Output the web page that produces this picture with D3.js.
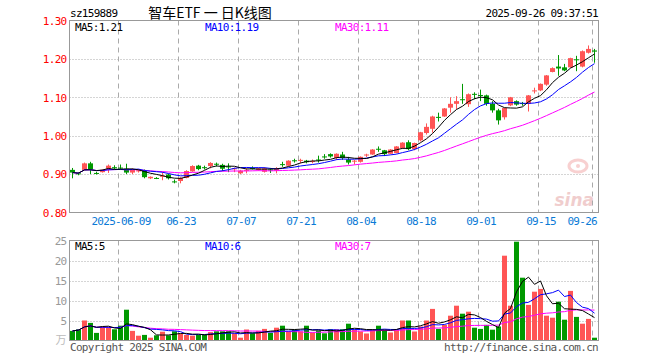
<!DOCTYPE html>
<html>
<head>
<meta charset="utf-8">
<script src="https://cdn.jsdelivr.net/npm/d3@7"></script>
<style>
  body { margin: 0; background: #fff; }
  svg { display: block; }
  text { font-family: "DejaVu Sans Mono", monospace; font-size: 11px; letter-spacing: -0.7px; }
</style>
</head>
<body>
<svg id="chart"></svg>
<script>
// ---- data ----
const code = "sz159889";
const title = "智车ETF 一 日K线图";
const stamp = "2025-09-26 09:37:51";
const year = "2025";

const dates = ["05-27","05-28","05-29","05-30","06-03","06-04","06-05","06-06","06-09","06-10",
  "06-11","06-12","06-13","06-16","06-17","06-18","06-19","06-20","06-23","06-24",
  "06-25","06-26","06-27","06-30","07-01","07-02","07-03","07-04","07-07","07-08",
  "07-09","07-10","07-11","07-14","07-15","07-16","07-17","07-18","07-21","07-22",
  "07-23","07-24","07-25","07-28","07-29","07-30","07-31","08-01","08-04","08-05",
  "08-06","08-07","08-08","08-11","08-12","08-13","08-14","08-15","08-18","08-19",
  "08-20","08-21","08-22","08-25","08-26","08-27","08-28","08-29","09-01","09-02",
  "09-03","09-04","09-05","09-08","09-09","09-10","09-11","09-12","09-15","09-16",
  "09-17","09-18","09-19","09-22","09-23","09-24","09-25","09-26"];

const open = [.911,.902,.911,.928,.903,.905,.914,.918,.917,.914,
  .904,.907,.910,.889,.890,.893,.899,.881,.882,.890,
  .907,.922,.918,.921,.927,.924,.920,.913,.902,.909,
  .916,.911,.906,.912,.909,.926,.922,.936,.935,.935,
  .932,.938,.946,.952,.942,.951,.938,.933,.932,.949,
  .951,.966,.962,.953,.955,.968,.983,.965,.988,1.007,
  1.018,1.049,1.050,1.073,1.083,1.095,1.082,1.109,1.106,1.105,
  1.083,1.066,1.048,1.079,1.090,1.085,1.083,1.116,1.118,1.133,
  1.166,1.180,1.178,1.178,1.199,1.180,1.216,1.222];
const high = [.916,.905,.930,.932,.906,.912,.925,.923,.925,.927,
  .915,.912,.912,.894,.892,.905,.901,.886,.892,.910,
  .923,.924,.922,.931,.930,.927,.928,.917,.911,.915,
  .920,.916,.918,.916,.918,.932,.936,.940,.940,.937,
  .938,.948,.952,.954,.954,.958,.945,.937,.946,.953,
  .965,.972,.963,.965,.973,.983,.988,.982,1.010,1.032,
  1.052,1.060,1.072,1.100,1.103,1.135,1.110,1.113,1.120,1.107,
  1.090,1.070,1.073,1.101,1.092,1.088,1.106,1.125,1.136,1.158,
  1.178,1.210,1.187,1.203,1.208,1.222,1.235,1.226];
const low = [.889,.897,.910,.900,.899,.904,.903,.912,.912,.900,
  .900,.904,.889,.887,.887,.884,.886,.876,.876,.889,
  .906,.910,.912,.915,.920,.908,.905,.905,.900,.902,
  .912,.909,.904,.903,.902,.919,.921,.930,.928,.928,
  .928,.930,.940,.943,.937,.937,.925,.925,.930,.944,
  .950,.958,.947,.952,.954,.966,.962,.962,.985,1.003,
  1.008,1.037,1.049,1.060,1.069,1.083,1.075,1.095,1.090,1.078,
  1.060,1.029,1.042,1.077,1.078,1.078,1.063,1.110,1.116,1.130,
  1.165,1.156,1.168,1.177,1.168,1.178,1.214,1.190];
const close = [.904,.901,.928,.912,.901,.911,.922,.915,.915,.904,
  .912,.910,.892,.893,.889,.896,.889,.880,.890,.908,
  .921,.913,.917,.929,.926,.914,.918,.915,.909,.911,
  .915,.915,.915,.910,.914,.925,.935,.934,.937,.931,
  .934,.936,.945,.946,.953,.942,.930,.935,.945,.951,
  .964,.965,.952,.964,.972,.982,.965,.981,1.009,1.023,
  1.050,1.047,1.071,1.083,1.090,1.093,1.108,1.107,1.104,1.083,
  1.066,1.040,1.072,1.100,1.081,1.083,1.105,1.118,1.135,1.157,
  1.176,1.175,1.170,1.202,1.197,1.220,1.226,1.219];
// volume, 万
const volume = [2.4,2.8,5.0,4.4,1.9,3.4,3.2,2.8,3.7,7.7,
  2.4,1.2,1.4,0.7,1.3,2.2,1.3,2.3,1.7,1.4,
  1.2,1.4,1.4,2.1,2.3,2.3,2.3,1.8,0.7,2.75,
  1.8,2.4,2.9,1.9,3.2,3.7,2.25,2.7,2.3,3.7,
  2.0,2.5,1.8,2.8,2.8,2.8,4.2,2.7,2.25,1.75,
  2.7,3.7,2.7,2.0,2.7,5.0,5.0,2.25,3.5,5.0,
  7.9,2.9,3.9,6.2,8.7,6.7,7.2,3.2,2.9,3.9,
  2.7,3.5,21.2,8.7,24.7,15.7,8.9,12.2,12.9,6.2,
  5.7,9.7,5.2,12.4,5.9,4.2,5.4,0.7];

const priceTicks = [0.8, 0.9, 1.0, 1.1, 1.2, 1.3];
const volTicks = [5, 10, 15, 20, 25];
const dateTicks = ["06-09","06-23","07-07","07-21","08-04","08-18","09-01","09-15","09-26"];

// ---- drawing ----
const W = 660, H = 360;
const L = 69.5, R = 598.5;
const RED = "#ff5555", GREEN = "#009900", GRID = "#aaaaaa", FRAME = "#999999";

const svg = d3.select("#chart").attr("width", W).attr("height", H);

const x = d3.scaleLinear().domain([0, dates.length - 1]).range([72.5, 72.5 + 6 * (dates.length - 1)]);
const y = d3.scaleLinear().domain([0.8, 1.3]).range([212.5, 20.5]);
const yv = d3.scaleLinear().domain([0, 25]).range([340.5, 240.5]);

function ma(arr, n) {
  return arr.map((d, i) => d3.mean(arr.slice(Math.max(0, i - n + 1), i + 1)));
}
const up = i => close[i] >= open[i];
const idx = d3.range(dates.length);
const tickIdx = dateTicks.map(t => dates.indexOf(t));

// titles
svg.append("text").attr("x", 70).attr("y", 17).text(code);
svg.append("text").attr("x", 210).attr("y", 18).attr("text-anchor", "middle")
  .style("font-family", "'Noto Sans CJK SC', sans-serif").style("font-size", "14px")
  .style("letter-spacing", "0px").text(title);
svg.append("text").attr("x", 598).attr("y", 17).attr("text-anchor", "end").text(stamp);

// watermark
const wm = svg.append("g").attr("opacity", 0.22);
wm.append("ellipse").attr("cx", 578).attr("cy", 166).attr("rx", 9).attr("ry", 6)
  .attr("fill", "none").attr("stroke", "#e03030").attr("stroke-width", 3);
wm.append("circle").attr("cx", 578).attr("cy", 166).attr("r", 2).attr("fill", "#e03030");
wm.append("text").attr("x", 594).attr("y", 206).attr("text-anchor", "end")
  .style("font-family", "'DejaVu Sans', sans-serif").style("font-size", "17px")
  .style("font-weight", "bold").style("font-style", "italic").style("letter-spacing", "0px")
  .attr("fill", "#c02020").text("sina");

function panel(yScale, ticks, top, bottom) {
  const g = svg.append("g");
  // horizontal dotted grid
  g.selectAll("line.h").data(ticks.filter(t => yScale(t) > top + 1 && yScale(t) < bottom - 1))
    .enter().append("line")
    .attr("x1", L).attr("x2", R)
    .attr("y1", d => Math.round(yScale(d)) + 0.5).attr("y2", d => Math.round(yScale(d)) + 0.5)
    .attr("stroke", GRID).attr("stroke-dasharray", "1,2");
  // vertical dashed grid
  g.selectAll("line.v").data(tickIdx).enter().append("line")
    .attr("x1", d => x(d) - 2).attr("x2", d => x(d) - 2)
    .attr("y1", top).attr("y2", bottom)
    .attr("stroke", GRID).attr("stroke-dasharray", "5,4");
  return g;
}

// ---- price panel ----
panel(y, priceTicks, 20.5, 212.5);

const yAxis = svg.append("g").attr("transform", `translate(${L},0)`)
  .call(d3.axisLeft(y).tickValues(priceTicks).tickFormat(d3.format(".2f")).tickSize(0).tickPadding(3));
yAxis.select(".domain").remove();
yAxis.selectAll("text").attr("fill", "#ff0000").attr("dy", "0.35em");

const xAxis = svg.append("g").attr("transform", "translate(0,212.5)")
  .call(d3.axisBottom(x).tickValues(tickIdx)
    .tickFormat((d, i) => i === 0 ? year + "-" + dates[d] : dates[d]).tickSize(0).tickPadding(5));
xAxis.select(".domain").remove();
xAxis.selectAll("text").attr("fill", "#0a7ad6").attr("dy", "0.71em");
xAxis.selectAll(".tick").filter((d, i) => i === tickIdx.length - 1)
  .select("text").attr("text-anchor", "end").attr("x", R - 2 - x(dates.length - 1));

const candles = svg.append("g");
candles.selectAll("line").data(idx).enter().append("line")
  .attr("x1", i => x(i)).attr("x2", i => x(i))
  .attr("y1", i => y(high[i])).attr("y2", i => y(low[i]))
  .attr("stroke", i => up(i) ? RED : GREEN);
candles.selectAll("rect").data(idx).enter().append("rect")
  .attr("x", i => x(i) - 2.5).attr("width", 5)
  .attr("y", i => y(Math.max(open[i], close[i])))
  .attr("height", i => Math.max(1, Math.abs(y(open[i]) - y(close[i]))))
  .attr("fill", i => up(i) ? RED : GREEN);

const priceLine = d3.line().x((d, i) => x(i)).y(d => y(d));
const ma5 = ma(close, 5), ma10 = ma(close, 10), ma30 = ma(close, 30);
[[ma30, "#ff00ff"], [ma10, "#0000ff"], [ma5, "#000000"]].forEach(([s, c]) => {
  svg.append("path").datum(s).attr("d", priceLine).attr("fill", "none").attr("stroke", c).attr("stroke-width", 1);
});

const last = dates.length - 1;
svg.append("text").attr("x", 75).attr("y", 31).attr("fill", "#000").text("MA5:" + ma5[last].toFixed(2));
svg.append("text").attr("x", 205).attr("y", 31).attr("fill", "#0000ff").text("MA10:" + ma10[last].toFixed(2));
svg.append("text").attr("x", 335).attr("y", 31).attr("fill", "#ff00ff").text("MA30:" + ma30[last].toFixed(2));

svg.append("rect").attr("x", L).attr("y", 20.5).attr("width", R - L).attr("height", 192)
  .attr("fill", "none").attr("stroke", FRAME);

// ---- volume panel ----
panel(yv, volTicks, 240.5, 340.5);

const vAxis = svg.append("g").attr("transform", `translate(${L},0)`)
  .call(d3.axisLeft(yv).tickValues(volTicks).tickSize(0).tickPadding(3));
vAxis.select(".domain").remove();
vAxis.selectAll("text").attr("fill", "#999").attr("dy", "0.35em");
svg.append("text").attr("x", L - 3).attr("y", 344).attr("text-anchor", "end")
  .attr("fill", "#bbb").style("font-family", "'Noto Sans CJK SC', sans-serif")
  .style("font-size", "11px").style("letter-spacing", "0px").text("万");

svg.append("g").selectAll("rect").data(idx).enter().append("rect")
  .attr("x", i => x(i) - 2.5).attr("width", 5)
  .attr("y", i => yv(volume[i])).attr("height", i => yv(0) - yv(volume[i]))
  .attr("fill", i => up(i) ? RED : GREEN);

const volLine = d3.line().x((d, i) => x(i)).y(d => yv(d));
const v5 = ma(volume, 5), v10 = ma(volume, 10), v30 = ma(volume, 30);
[[v30, "#ff00ff"], [v10, "#0000ff"], [v5, "#000000"]].forEach(([s, c]) => {
  svg.append("path").datum(s).attr("d", volLine).attr("fill", "none").attr("stroke", c).attr("stroke-width", 1);
});

svg.append("text").attr("x", 75).attr("y", 250).attr("fill", "#000").text("MA5:" + Math.floor(v5[last]));
svg.append("text").attr("x", 205).attr("y", 250).attr("fill", "#0000ff").text("MA10:" + Math.floor(v10[last]));
svg.append("text").attr("x", 335).attr("y", 250).attr("fill", "#ff00ff").text("MA30:" + Math.floor(v30[last]));

svg.append("rect").attr("x", L).attr("y", 240.5).attr("width", R - L).attr("height", 100)
  .attr("fill", "none").attr("stroke", FRAME);

svg.append("text").attr("x", 70).attr("y", 351).attr("fill", "#555").text("Copyright 2025 SINA.COM");
svg.append("text").attr("x", 598).attr("y", 351).attr("text-anchor", "end").attr("fill", "#555").text("http://finance.sina.com.cn");
</script>
</body>
</html>
